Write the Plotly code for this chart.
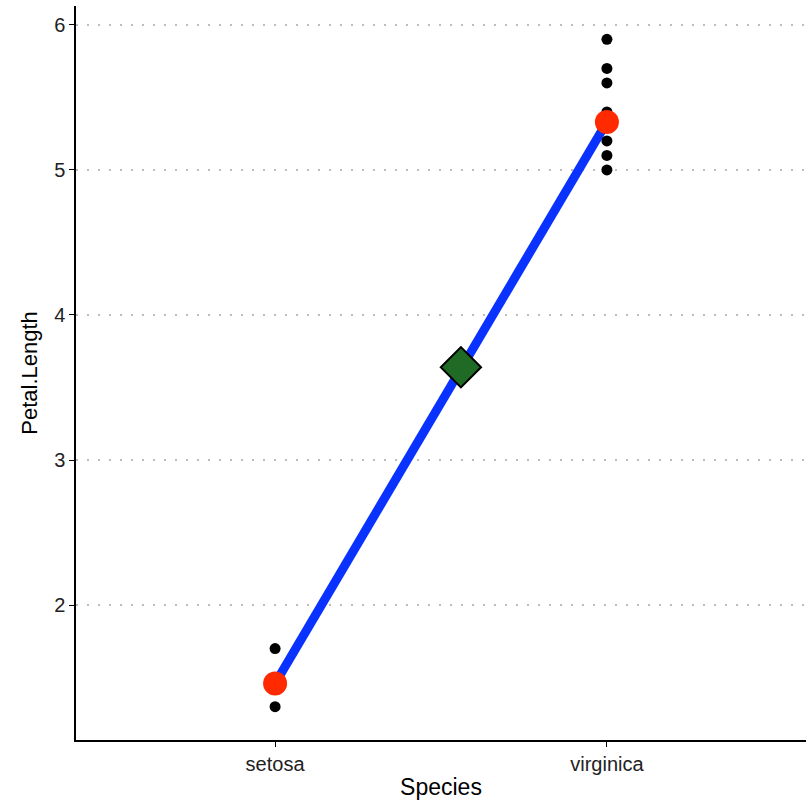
import plotly.graph_objects as go

categories = ["setosa", "virginica"]
cat_pos = [1, 2]
setosa_vals = [1.3, 1.5, 1.7]
virginica_vals = [5.0, 5.1, 5.2, 5.3, 5.4, 5.6, 5.7, 5.9]
group_means = [1.46, 5.33]
center_x = [1.56]
center_y = [3.64]
y_ticks = [2, 3, 4, 5, 6]

fig = go.Figure()
fig.add_trace(go.Scatter(x=cat_pos, y=group_means, mode="lines",
                         line=dict(color="#0A32FF", width=9), showlegend=False))
fig.add_trace(go.Scatter(x=[1] * len(setosa_vals) + [2] * len(virginica_vals),
                         y=setosa_vals + virginica_vals, mode="markers",
                         marker=dict(color="black", size=11), showlegend=False))
fig.add_trace(go.Scatter(x=cat_pos, y=group_means, mode="markers",
                         marker=dict(color="#FF2A00", size=24), showlegend=False))
fig.add_trace(go.Scatter(x=center_x, y=center_y, mode="markers",
                         marker=dict(color="#1F6A24", size=31, symbol="diamond",
                                     line=dict(color="black", width=2)),
                         showlegend=False))

fig.update_layout(
    width=809, height=804,
    margin=dict(l=76, r=3, t=6, b=64),
    plot_bgcolor="white", paper_bgcolor="white",
    font=dict(family="Liberation Sans, Arial, sans-serif", color="black"),
    xaxis=dict(range=[0.4, 2.6], tickvals=cat_pos, ticktext=categories,
               showgrid=False, zeroline=False, showline=True, linecolor="black",
               linewidth=1.5, ticks="outside", ticklen=5, tickcolor="black",
               tickfont=dict(size=20, color="#222222"), automargin=False,
               title=dict(text="Species", font=dict(size=23), standoff=5)),
    yaxis=dict(range=[1.07, 6.13], tickvals=y_ticks, showgrid=True,
               gridcolor="#BDBDBD", griddash="2px,9px", gridwidth=2,
               zeroline=False, showline=True, linecolor="black", linewidth=1.5,
               ticks="outside", ticklen=5, tickcolor="black",
               tickfont=dict(size=20, color="#222222"), automargin=False,
               title=dict(text="Petal.Length", font=dict(size=22), standoff=10)),
)

fig.write_html("out.html", config={"displayModeBar": False},
               post_script="document.body.style.margin='0';document.body.style.padding='0';")
